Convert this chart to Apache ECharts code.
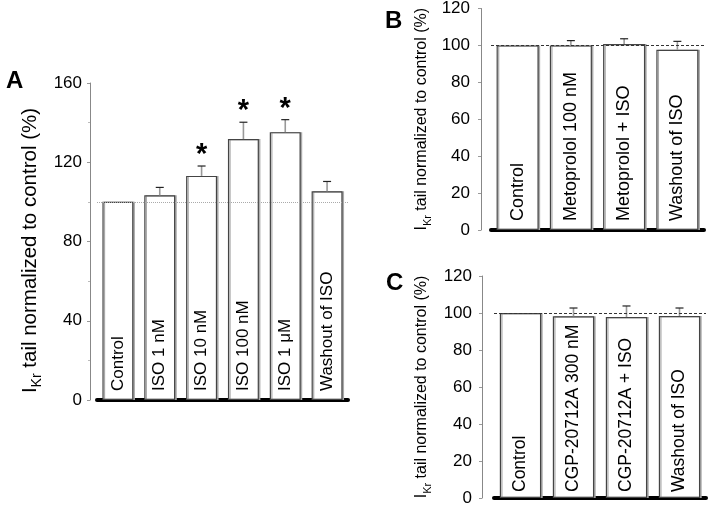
<!DOCTYPE html>
<html><head><meta charset="utf-8">
<script src="https://cdn.jsdelivr.net/npm/echarts@6/dist/echarts.min.js"></script>
<style>html,body{margin:0;padding:0;background:#fff}#c{width:709px;height:509px}</style>
</head><body><div id="c"></div>
<script>
// ---- data ----
const catsA = ['Control', 'ISO 1 nM', 'ISO 10 nM', 'ISO 100 nM', 'ISO 1 μM', 'Washout of ISO'];
const meanA = [100, 103.3, 113.1, 131.7, 135.2, 105.3];
const errA = [0, 4.0, 5.0, 8.5, 6.3, 5.0];
const sigA = [0, 0, 1, 1, 1, 0];

const catsB = ['Control', 'Metoprolol 100 nM', 'Metoprolol + ISO', 'Washout of ISO'];
const meanB = [100, 100, 100.7, 97.6];
const errB = [0, 2.6, 2.9, 4.6];

const catsC = ['Control', 'CGP-20712A 300 nM', 'CGP-20712A + ISO', 'Washout of ISO'];
const meanC = [100, 98.2, 97.8, 98.4];
const errC = [0, 4.5, 6.0, 4.3];

const ticksA = [0, 40, 80, 120, 160];
const ticksBC = [0, 20, 40, 60, 80, 100, 120];
const refLine = 100;
const yName = '{n|I}{s|Kr}{n| tail normalized to control (%)}';

// ---- helpers ----
const FONT = 'Liberation Sans, Arial, sans-serif';

function yAxisOf(gi, ticks, offset, nameGap, nameSize, labelMargin, minor, namePad) {
  return {
    type: 'value', gridIndex: gi, min: ticks[0], max: ticks[ticks.length - 1],
    interval: ticks[1] - ticks[0], offset: offset,
    axisLine: { show: true, lineStyle: { color: '#888', width: 1 } },
    axisTick: { show: true, length: 3, lineStyle: { color: '#999' } },
    minorTick: { show: minor, splitNumber: 2, length: 2, lineStyle: { color: '#bbb' } },
    splitLine: { show: false },
    axisLabel: { color: '#000', fontSize: 17, fontFamily: FONT, margin: labelMargin },
    name: yName, nameLocation: 'middle', nameRotate: 90, nameGap: nameGap,
    nameTextStyle: {
      fontFamily: FONT, color: '#000', fontSize: nameSize, padding: namePad,
      rich: {
        n: { fontSize: nameSize, lineHeight: nameSize + 6, fontFamily: FONT, color: '#000' },
        s: { fontSize: Math.round(nameSize * 0.7), lineHeight: Math.round(nameSize * 0.7), verticalAlign: 'bottom', fontFamily: FONT, color: '#000' }
      }
    }
  };
}

function xAxisOf(gi, cats) {
  return {
    type: 'category', gridIndex: gi, data: cats,
    axisLine: { show: true, lineStyle: { color: '#000', width: 4 } },
    axisTick: { show: false }, axisLabel: { show: false }, splitLine: { show: false }
  };
}

function barSeries(gi, vals, width, refStyle, fs, dist) {
  return {
    type: 'bar', xAxisIndex: gi, yAxisIndex: gi, data: vals, barWidth: width,
    itemStyle: { color: '#fff', borderColor: '#444', borderWidth: 1.2,
      shadowColor: '#aaa', shadowOffsetX: 1.5, shadowOffsetY: 0, shadowBlur: 0 },
    label: { show: true, position: 'insideBottom', rotate: 90, align: 'left', verticalAlign: 'middle',
      distance: dist, formatter: '{b}', fontSize: fs, fontFamily: FONT, color: '#000' },
    markLine: { silent: true, symbol: 'none', label: { show: false },
      lineStyle: refStyle, data: [{ yAxis: refLine }] },
    z: 2
  };
}

function errSeries(gi, mean, err, sig) {
  return {
    type: 'custom', xAxisIndex: gi, yAxisIndex: gi,
    data: mean.map((m, i) => [i, m, m + err[i], sig ? sig[i] : 0]),
    renderItem: function (params, api) {
      const m = api.value(1), t = api.value(2);
      if (t <= m) return null;
      const b = api.coord([api.value(0), m]);
      const p = api.coord([api.value(0), t]);
      const ch = [
        { type: 'line', shape: { x1: b[0], y1: b[1], x2: p[0], y2: p[1] }, style: { stroke: '#999', lineWidth: 1.6 } },
        { type: 'line', shape: { x1: p[0] - 4, y1: p[1], x2: p[0] + 4, y2: p[1] }, style: { stroke: '#222', lineWidth: 1.2 } }
      ];
      if (api.value(3)) {
        ch.push({ type: 'text', style: { text: '*', x: p[0], y: p[1] - 11, align: 'center', verticalAlign: 'middle',
          font: 'bold 29px ' + FONT, fill: '#000' } });
      }
      return { type: 'group', children: ch };
    },
    z: 3
  };
}

const chart = echarts.init(document.getElementById('c'), null, { renderer: 'canvas' });
chart.setOption({
  backgroundColor: '#fff',
  animation: false,
  title: [
    { text: 'A', left: 1, top: 64, textStyle: { fontSize: 24, fontWeight: 'bold', fontFamily: FONT, color: '#000' } },
    { text: 'B', left: 380, top: 4, textStyle: { fontSize: 24, fontWeight: 'bold', fontFamily: FONT, color: '#000' } },
    { text: 'C', left: 381, top: 266, textStyle: { fontSize: 24, fontWeight: 'bold', fontFamily: FONT, color: '#000' } }
  ],
  grid: [
    { left: 97, width: 251, top: 83, height: 317 },
    { left: 491, width: 213, top: 8, height: 222 },
    { left: 494, width: 212, top: 276, height: 222 }
  ],
  xAxis: [xAxisOf(0, catsA), xAxisOf(1, catsB), xAxisOf(2, catsC)],
  yAxis: [
    yAxisOf(0, ticksA, 7, 46, 20.5, 8, true, [0, 18, 0, 0]),
    yAxisOf(1, ticksBC, 10, 48, 16, 11, false, 0),
    yAxisOf(2, ticksBC, 12, 49, 16, 10, false, 0)
  ],
  series: [
    barSeries(0, meanA, '74%', { color: '#aaa', type: 'dotted', width: 1 }, 17, 9),
    errSeries(0, meanA, errA, sigA),
    barSeries(1, meanB, '79%', { color: '#333', type: [3, 2], width: 1 }, 18, 9),
    errSeries(1, meanB, errB, null),
    barSeries(2, meanC, '78%', { color: '#333', type: [3, 2], width: 1 }, 17.5, 6),
    errSeries(2, meanC, errC, null)
  ]
});
</script></body></html>
